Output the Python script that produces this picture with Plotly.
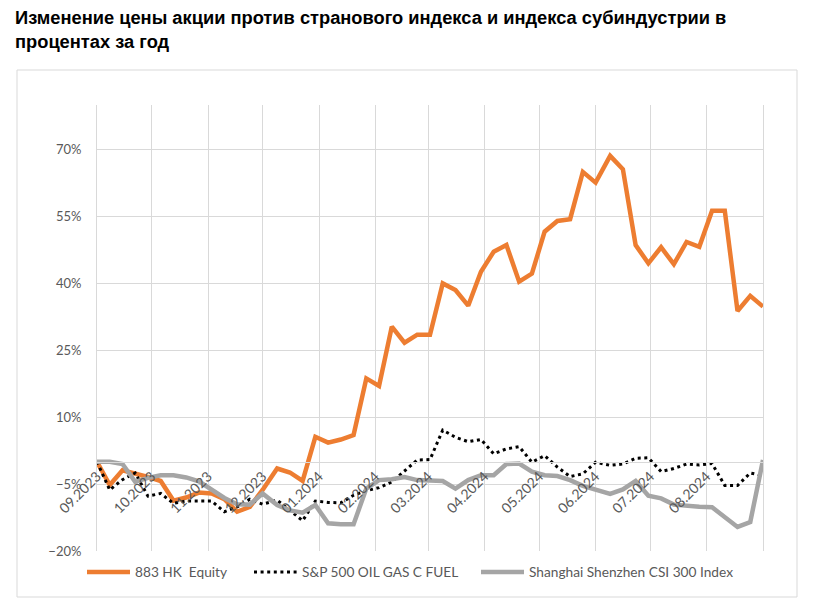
import plotly.graph_objects as go

dates = [
    "2023-09-01", "2023-09-08", "2023-09-15", "2023-09-22", "2023-09-29",
    "2023-10-06", "2023-10-13", "2023-10-20", "2023-10-27", "2023-11-03",
    "2023-11-10", "2023-11-17", "2023-11-24", "2023-12-01", "2023-12-09",
    "2023-12-16", "2023-12-23", "2023-12-30", "2024-01-06", "2024-01-13",
    "2024-01-20", "2024-01-27", "2024-02-03", "2024-02-10", "2024-02-17",
    "2024-02-24", "2024-03-02", "2024-03-09", "2024-03-16", "2024-03-23",
    "2024-03-30", "2024-04-06", "2024-04-13", "2024-04-20", "2024-04-27",
    "2024-05-04", "2024-05-11", "2024-05-18", "2024-05-25", "2024-06-01",
    "2024-06-09", "2024-06-16", "2024-06-23", "2024-06-30", "2024-07-07",
    "2024-07-14", "2024-07-21", "2024-07-28", "2024-08-04", "2024-08-11",
    "2024-08-18", "2024-08-25", "2024-09-01",
]

equity_883 = [
    0, -5.2, -1.9, -2.6, -3.4, -4.3, -8.7, -8.0, -6.9, -7.1,
    -8.4, -11.2, -10.1, -6.3, -1.5, -2.4, -4.3, 5.6, 4.3, 5.0,
    6.0, 18.7, 17.0, 30.3, 26.7, 28.5, 28.5, 40.0, 38.5, 35.0,
    42.6, 47.1, 48.6, 40.4, 42.2, 51.6, 54.0, 54.4, 65.0, 62.6,
    68.6, 65.6, 48.6, 44.5, 48.1, 44.3, 49.3, 48.2, 56.3, 56.3,
    33.8, 37.2, 34.8,
]

sp500_oil_gas = [
    0, -6.3, -4.0, -2.5, -7.7, -7.1, -9.3, -8.8, -8.8, -8.8,
    -11.2, -10.1, -8.4, -9.5, -8.6, -10.8, -13.2, -8.8, -9.1, -9.2,
    -7.5, -6.5, -5.8, -4.5, -2.0, 0.4, 0.5, 7.1, 5.5, 4.5,
    5.0, 1.8, 2.9, 3.4, -0.1, 1.4, -1.2, -3.3, -2.7, -0.1,
    -0.8, -0.5, 0.8, 0.9, -2.2, -1.5, -0.5, -0.7, -0.4, -5.3,
    -5.3, -2.5, -3.1,
]

csi300 = [
    0, 0, -0.5, -4.5, -3.6, -3.0, -3.0, -3.5, -4.4, -6.2,
    -8.1, -9.5, -9.6, -7.1, -9.7, -10.9, -11.4, -9.7, -13.8, -14.0,
    -14.0, -6.0, -4.1, -3.9, -3.4, -4.1, -4.3, -4.3, -6.0, -4.1,
    -3.0, -3.0, -0.5, -0.4, -2.2, -3.0, -3.2, -4.1, -5.4, -6.3,
    -7.2, -6.2, -4.3, -7.6, -8.2, -9.6, -9.9, -10.1, -10.2, -12.3,
    -14.6, -13.5, 0.4,
]

month_ticks = [
    "2023-09-01", "2023-10-01", "2023-11-01", "2023-12-01", "2024-01-01",
    "2024-02-01", "2024-03-01", "2024-04-01", "2024-05-01", "2024-06-01",
    "2024-07-01", "2024-08-01",
]
month_labels = [
    "09.2023", "10.2023", "11.2023", "12.2023", "01.2024", "02.2024",
    "03.2024", "04.2024", "05.2024", "06.2024", "07.2024", "08.2024",
]

series_names = ["883 HK\u00a0 Equity", "S&P 500 OIL GAS C FUEL", "Shanghai Shenzhen CSI 300 Index"]

y_min, y_max = -20, 80
x_start, x_end = "2023-09-01", "2024-09-01"

# page body has an 8px margin; figure is laid out in page pixels minus that offset
OFF = 8
W, H = 807, 597
ML, MT = 97 - OFF, 105 - OFF
PW, PH = 666, 446
MR, MB = W - ML - PW, H - MT - PH

def px_x(p):
    return (p - OFF - ML) / PW

def px_y(p):
    return (MT + PH - (p - OFF)) / PH

grid = "#D9D9D9"
txt = "#595959"
legend_font = dict(family="Lato", size=13.7, color=txt)

fig = go.Figure()
fig.add_trace(go.Scatter(x=dates, y=equity_883, name=series_names[0], mode="lines",
                         line=dict(color="#ED7D31", width=4.5), legend="legend"))
fig.add_trace(go.Scatter(x=dates, y=sp500_oil_gas, name=series_names[1], mode="lines",
                         line=dict(color="#000000", width=3, dash="3px,3.6px"), legend="legend2"))
fig.add_trace(go.Scatter(x=dates, y=csi300, name=series_names[2], mode="lines",
                         line=dict(color="#A5A5A5", width=4.5), legend="legend3"))

def leg(xpx):
    return dict(orientation="h", xref="container", yref="container",
                x=(xpx - OFF) / W, xanchor="left", y=1 - (572 - OFF) / H, yanchor="middle",
                font=legend_font, bgcolor="rgba(0,0,0,0)", itemwidth=43)

fig.update_layout(
    width=W, height=H,
    margin=dict(l=ML, r=MR, t=MT, b=MB, autoexpand=False),
    paper_bgcolor="white", plot_bgcolor="white",
    font=dict(family="Lato", size=13, color=txt),
    showlegend=True,
    legend=leg(82),
    legend2=leg(249),
    legend3=leg(476),
    xaxis=dict(type="date", range=[x_start, x_end],
               tickvals=month_ticks, ticktext=month_labels,
               tickangle=-45, showgrid=True, gridcolor=grid, gridwidth=1,
               anchor="free", position=(0 - y_min) / (y_max - y_min),
               showline=True, linecolor=grid, linewidth=1,
               ticks="", zeroline=False, automargin=False,
               tickfont=dict(family="Lato", size=14, color=txt)),
    yaxis=dict(range=[y_min, y_max], tick0=-20, dtick=15, ticksuffix="%",
               showgrid=True, gridcolor=grid, gridwidth=1, zeroline=False,
               showline=True, linecolor=grid, mirror=True, ticks="",
               ticklabelstandoff=12, automargin=False,
               tickfont=dict(family="Lato", size=13, color=txt)),
    shapes=[dict(type="rect", xref="paper", yref="paper",
                 x0=px_x(17), x1=px_x(797), y0=px_y(597), y1=px_y(70),
                 line=dict(color=grid, width=1), layer="below")],
    annotations=[dict(text="Изменение цены акции против странового индекса и индекса субиндустрии в<br>процентах за год",
                      xref="paper", yref="paper", x=px_x(13), y=px_y(5),
                      xanchor="left", yanchor="top", align="left", showarrow=False,
                      font=dict(family="Liberation Sans", size=18.3, color="#000000", weight="bold"))],
)

fig.write_html("out.html")
